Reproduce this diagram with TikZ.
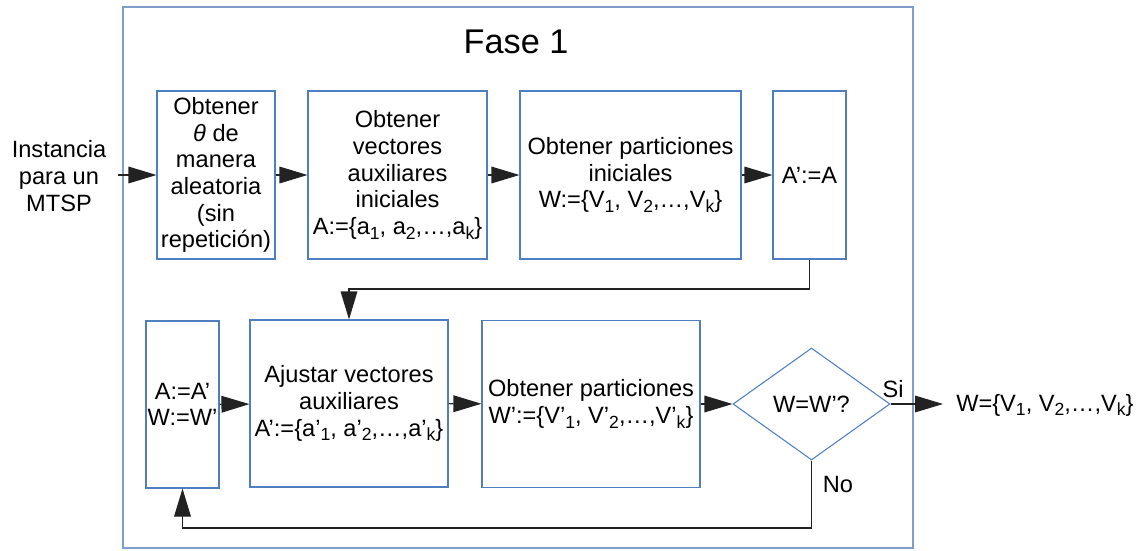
\documentclass[tikz,border=0pt]{standalone}
\usepackage{fontspec}
\setmainfont{Liberation Sans}
\usetikzlibrary{shapes.geometric,arrows.meta}
\definecolor{boxblue}{HTML}{4F7FC0}
\definecolor{frameblue}{HTML}{7F9DCA}
\definecolor{linegray}{HTML}{222222}
\newcommand{\sbx}[1]{\raisebox{-0.2em}{\fontsize{13.2}{13}\selectfont #1}}
\begin{document}
\begin{tikzpicture}[x=0.75pt,y=-0.75pt,
  every node/.style={font=\fontsize{17.7}{20}\selectfont, inner sep=0pt, text=black},
  proc/.style={draw=boxblue, line width=0.8pt, align=center},
  conn/.style={draw=linegray, line width=0.8pt, -{Triangle[length=21pt,width=12.5pt]}},
  plain/.style={draw=linegray, line width=0.8pt}]
\useasboundingbox (0,0) rectangle (1141,550);
% outer frame
\node[draw=frameblue, line width=1pt, minimum width=790*0.75pt, minimum height=541*0.75pt] (frame) at (518,277.5) {};
\node[font=\fontsize{25.7}{30}\selectfont] (title) at (516,42) {Fase 1};
% input text
\node[align=center] (inst) at (59,176) {Instancia\\para un\\MTSP};
\coordinate (in) at (118,175);
% row 1
\node[proc, minimum width=118*0.75pt, minimum height=168*0.75pt] (b1) at (216,175)
  {Obtener\\{\itshape θ} de\\manera\\aleatoria\\(sin\\repetición)};
\node[proc, minimum width=179*0.75pt, minimum height=168*0.75pt] (b2) at (397.5,175)
  {Obtener\\vectores\\auxiliares\\iniciales\\A:=\{a\sbx{1}, a\sbx{2},…,a\sbx{k}\}};
\node[proc, minimum width=221*0.75pt, minimum height=168*0.75pt] (b3) at (630.5,175)
  {Obtener particiones\\iniciales\\W:=\{V\sbx{1}, V\sbx{2},…,V\sbx{k}\}};
\node[proc, minimum width=73*0.75pt, minimum height=168*0.75pt] (b4) at (809.5,175) {A’:=A};
% row 2
\node[proc, minimum width=73*0.75pt, minimum height=167*0.75pt] (b5) at (182.5,404.5) {A:=A’\\W:=W’};
\node[proc, minimum width=198*0.75pt, minimum height=167*0.75pt] (b6) at (349,403.5)
  {Ajustar vectores\\auxiliares\\A’:=\{a’\sbx{1}, a’\sbx{2},…,a’\sbx{k}\}};
\node[proc, minimum width=218*0.75pt, minimum height=167*0.75pt] (b7) at (591,404)
  {Obtener particiones\\W’:=\{V’\sbx{1}, V’\sbx{2},…,V’\sbx{k}\}};
\node[draw=boxblue, line width=0.8pt, shape=diamond, aspect=1.4, minimum width=157*0.75pt, minimum height=112*0.75pt] (dec) at (811.5,404) {W=W’?};
% output
\node (si) at (893,389) {Si};
\node (no) at (838,484) {No};
\coordinate (out) at (943,404);
\node[anchor=west] (res) at (956,405) {W=\{V\sbx{1}, V\sbx{2},…,V\sbx{k}\}};
% corner coordinates
\coordinate (c1) at (809.5,289);
\coordinate (c2) at (349,289);
\coordinate (c3) at (811.5,528);
\coordinate (c4) at (182.5,528);
% connectors
\draw[conn] (in) -- (b1.west);
\draw[conn] (b1) -- (b2);
\draw[conn] (b2) -- (b3);
\draw[conn] (b3) -- (b4);
\draw[conn] (b4.south) -- (c1) -- (c2) -- (b6.north);
\draw[conn] (b5) -- (b6);
\draw[conn] (b6) -- (b7);
\draw[conn] (b7) -- (dec);
\draw[conn] (dec.east) -- (out);
\draw[conn] (dec.south) -- (c3) -- (c4) -- (b5.south);
\end{tikzpicture}
\end{document}
